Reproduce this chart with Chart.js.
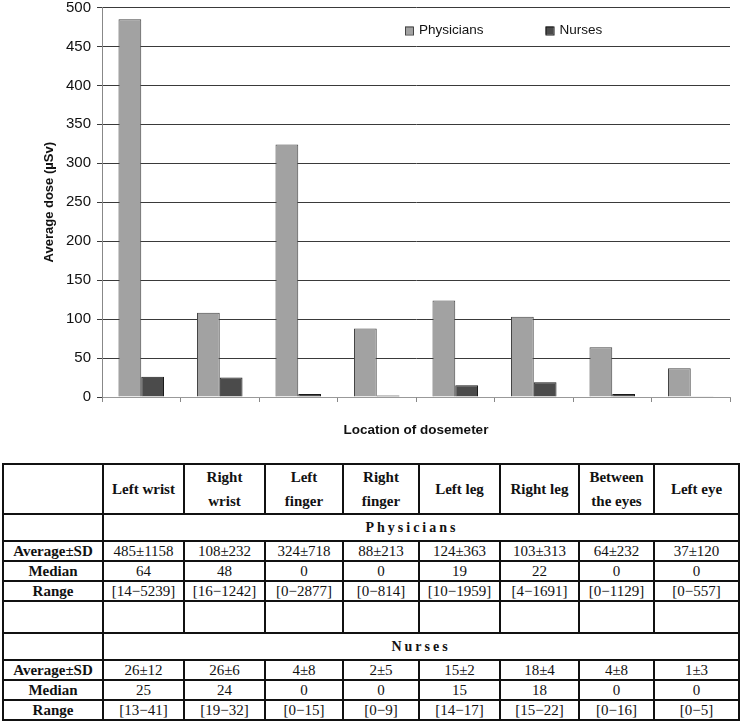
<!DOCTYPE html>
<html>
<head>
<meta charset="utf-8">
<script src="https://cdn.jsdelivr.net/npm/chart.js@4"></script>
<style>
  html, body { margin: 0; padding: 0; background: #fff; }
  #wrap { position: relative; width: 747px; height: 722px; overflow: hidden; }
  #chart { position: absolute; left: 0; top: 0; }
  table.stats {
    position: absolute; left: 2px; top: 463px;
    border-collapse: collapse; table-layout: fixed;
    font-family: "Liberation Serif", "Times New Roman", serif;
    font-size: 15px; color: #111;
  }
  table.stats td { border: 2px solid #111; padding: 0; text-align: center; line-height: 16px;
    font-family: "Liberation Serif", "Times New Roman", serif; }
  table.stats tr.head td { font-weight: bold; height: 47px; line-height: 24px; white-space: pre-line; }
  table.stats tr.group td { height: 25px; font-weight: bold; font-size: 14px; letter-spacing: 3px; }
  table.stats tr.group.phys td { padding-right: 18px; }
  table.stats tr.blank td { height: 30px; }
  table.stats tr.data td { height: 18px; }
  table.stats td.rowhead { font-weight: bold; }
</style>
</head>
<body>
<div id="wrap">
  <canvas id="chart" width="747" height="445"></canvas>
  <table class="stats" id="stats"></table>
</div>
<script>
const locations = ['Left wrist', 'Right wrist', 'Left finger', 'Right finger', 'Left leg', 'Right leg', 'Between the eyes', 'Left eye'];
const tableHeads = ['Left wrist', 'Right\nwrist', 'Left\nfinger', 'Right\nfinger', 'Left leg', 'Right leg', 'Between\nthe eyes', 'Left eye'];
const physicians = [485, 108, 324, 88, 124, 103, 64, 37];
const nurses = [26, 25, 4, 2, 15, 19, 4, 1];

const physAvgSd = ['485±1158', '108±232', '324±718', '88±213', '124±363', '103±313', '64±232', '37±120'];
const physMedian = ['64', '48', '0', '0', '19', '22', '0', '0'];
const physRange = ['[14−5239]', '[16−1242]', '[0−2877]', '[0−814]', '[10−1959]', '[4−1691]', '[0−1129]', '[0−557]'];
const nurseAvgSd = ['26±12', '26±6', '4±8', '2±5', '15±2', '18±4', '4±8', '1±3'];
const nurseMedian = ['25', '24', '0', '0', '15', '18', '0', '0'];
const nurseRange = ['[13−41]', '[19−32]', '[0−15]', '[0−9]', '[14−17]', '[15−22]', '[0−16]', '[0−5]'];

const yMin = 0, yMax = 500, yStep = 50;

// legend drawn inside the plot, upper right like the original
const insideLegend = {
  id: 'insideLegend',
  afterDraw(chart) {
    const ctx = chart.ctx;
    const ca = chart.chartArea;
    let x = ca.left + 303;
    const y = ca.top + 23;
    ctx.save();
    ctx.font = '13.5px "Liberation Sans", Arial, sans-serif';
    ctx.textBaseline = 'middle';
    chart.data.datasets.forEach(ds => {
      ctx.fillStyle = ds.backgroundColor;
      ctx.fillRect(x, y - 4, 8, 8);
      ctx.strokeStyle = ds.borderColor;
      ctx.lineWidth = 1;
      ctx.strokeRect(x + 0.5, y - 3.5, 8, 8);
      ctx.fillStyle = '#111';
      ctx.fillText(ds.label, x + 14, y);
      x += 14 + ctx.measureText(ds.label).width + 62;
    });
    ctx.restore();
  }
};

new Chart(document.getElementById('chart'), {
  type: 'bar',
  data: {
    labels: locations,
    datasets: [
      { label: 'Physicians', data: physicians, backgroundColor: '#a2a2a2', borderColor: '#444', borderWidth: 1 },
      { label: 'Nurses', data: nurses, backgroundColor: '#4b4b4b', borderColor: '#1a1a1a', borderWidth: 1 }
    ]
  },
  options: {
    responsive: false,
    animation: false,
    layout: { padding: { left: 0, right: 17, top: 6, bottom: 0 } },
    datasets: { bar: { categoryPercentage: 0.58, barPercentage: 1 } },
    plugins: { legend: { display: false }, tooltip: { enabled: false } },
    scales: {
      x: {
        grid: { drawOnChartArea: false, tickLength: 5, color: '#888' },
        border: { color: '#999' },
        ticks: { display: false },
        title: {
          display: true, text: 'Location of dosemeter', color: '#111',
          font: { family: '"Liberation Sans", Arial', size: 13.5, weight: 'bold' },
          padding: { top: 0, bottom: 7 }
        },
        afterFit(scale) { scale.height = 48; }
      },
      y: {
        min: yMin, max: yMax,
        grid: { color: '#3a3a3a', tickLength: 5 },
        border: { color: '#888' },
        ticks: {
          stepSize: yStep, padding: 6, color: '#111',
          font: { family: '"Liberation Sans", Arial', size: 15, lineHeight: 0.2 }
        },
        title: {
          display: true, text: 'Average dose (µSv)', color: '#111',
          font: { family: '"Liberation Sans", Arial', size: 13, weight: 'bold' },
          padding: { top: 42, bottom: 0 }
        },
        afterFit(scale) { scale.width = 102; }
      }
    }
  },
  plugins: [insideLegend]
});

// statistics table under the chart
const colWidths = [100, 81, 81, 78, 76, 81, 79, 75, 85];
const tbl = document.getElementById('stats');
const cg = document.createElement('colgroup');
colWidths.forEach(w => { const c = document.createElement('col'); c.style.width = w + 'px'; cg.appendChild(c); });
tbl.appendChild(cg);

function addRow(cls, first, cells) {
  const tr = document.createElement('tr');
  tr.className = cls;
  const td0 = document.createElement('td');
  td0.className = 'rowhead';
  td0.textContent = first;
  tr.appendChild(td0);
  cells.forEach(v => { const td = document.createElement('td'); td.textContent = v; tr.appendChild(td); });
  tbl.appendChild(tr);
}
function addGroup(name, cls) {
  const tr = document.createElement('tr');
  tr.className = 'group ' + cls;
  tr.appendChild(document.createElement('td'));
  const td = document.createElement('td');
  td.colSpan = 8;
  td.textContent = name;
  tr.appendChild(td);
  tbl.appendChild(tr);
}

addRow('head', '', tableHeads);
addGroup('Physicians', 'phys');
addRow('data', 'Average±SD', physAvgSd);
addRow('data', 'Median', physMedian);
addRow('data', 'Range', physRange);
addRow('blank', '', locations.map(() => ''));
addGroup('Nurses', 'nurs');
addRow('data', 'Average±SD', nurseAvgSd);
addRow('data', 'Median', nurseMedian);
addRow('data', 'Range', nurseRange);
</script>
</body>
</html>
